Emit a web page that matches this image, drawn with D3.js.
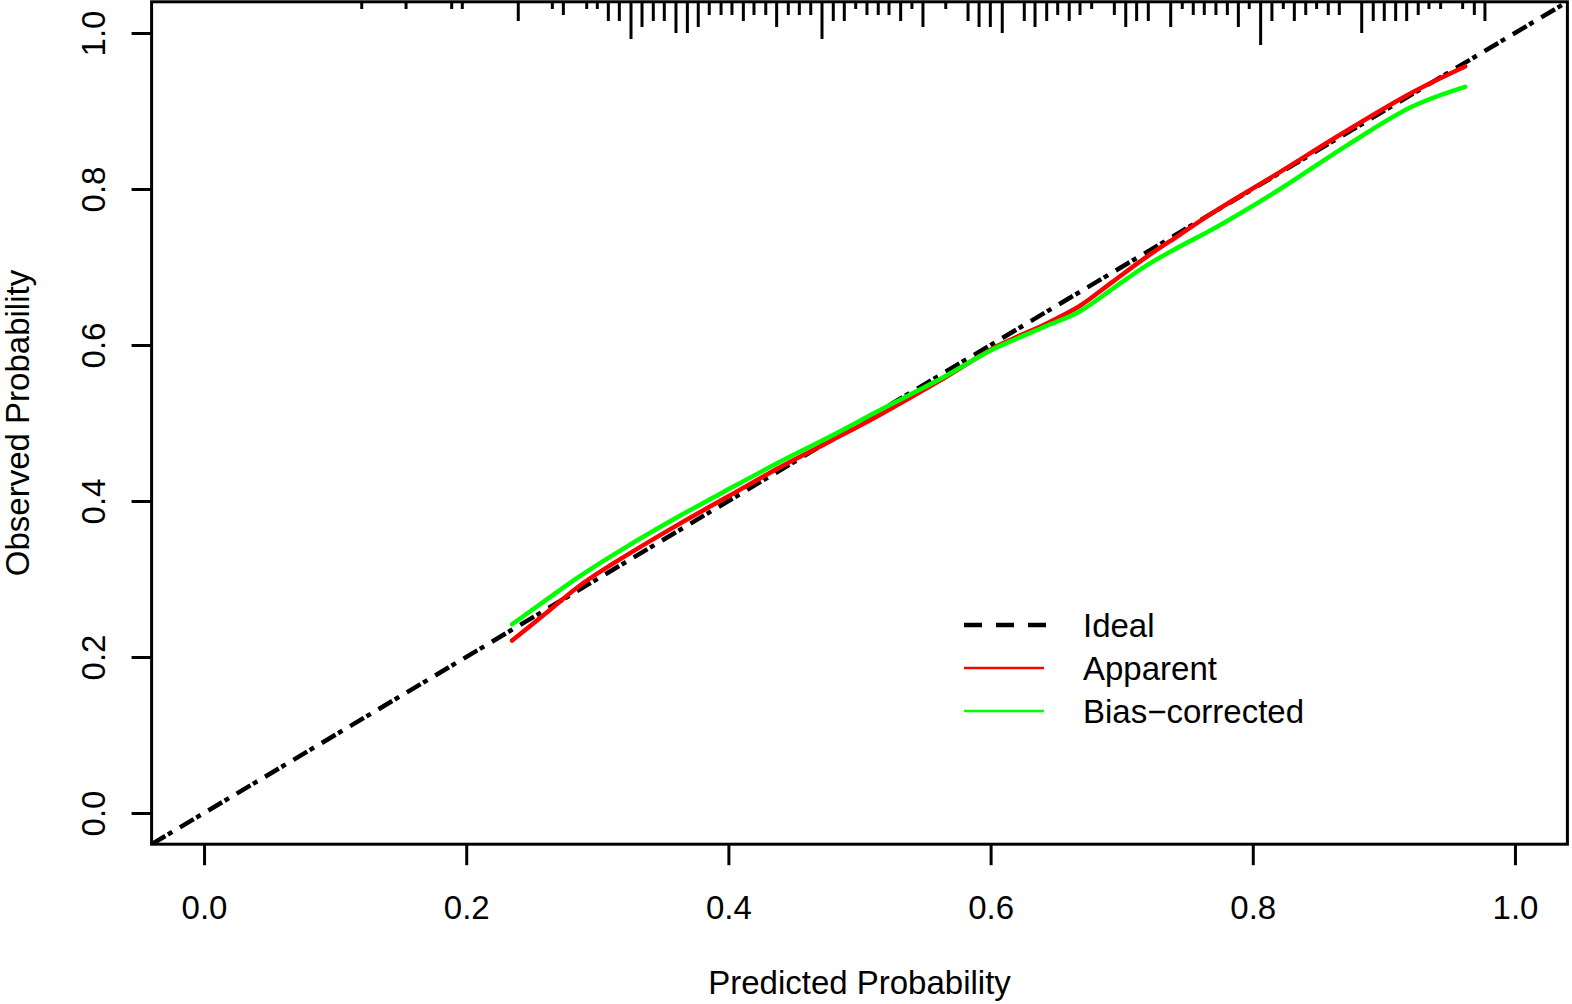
<!DOCTYPE html>
<html>
<head>
<meta charset="utf-8">
<script src="https://cdn.jsdelivr.net/npm/d3@7"></script>
<style>
    body { margin: 0; background: #ffffff; }
    svg { display: block; }
    text { font-family: "Liberation Sans", Arial, sans-serif; fill: #000000; }
</style>
</head>
<body>
<div id="chart"></div>
<script>
// predicted probability (x) and observed probability for each curve
var predicted = [0.235, 0.26, 0.287, 0.32, 0.363, 0.40, 0.439, 0.478, 0.515, 0.56, 0.60, 0.617, 0.642, 0.668, 0.693, 0.719, 0.744, 0.769, 0.82, 0.871, 0.922, 0.962]
var apparent = [0.221, 0.255, 0.292, 0.328, 0.371, 0.406, 0.443, 0.477, 0.510, 0.553, 0.594, 0.608, 0.627, 0.650, 0.681, 0.713, 0.741, 0.769, 0.821, 0.874, 0.924, 0.957]
var biasCorrected = [0.242, 0.272, 0.304, 0.339, 0.381, 0.415, 0.450, 0.483, 0.516, 0.555, 0.593, 0.606, 0.624, 0.643, 0.672, 0.702, 0.726, 0.748, 0.799, 0.855, 0.906, 0.931]

// distribution of predicted risks (rug along the top): position and relative frequency
var rugPos = [0.1203, 0.1541, 0.1889, 0.1970, 0.2397, 0.2657, 0.2741, 0.2919, 0.3000, 0.3084,
    0.3168, 0.3257, 0.3341, 0.3427, 0.3511, 0.3600, 0.3687, 0.3770, 0.3854, 0.3944,
    0.4027, 0.4114, 0.4195, 0.4285, 0.4368, 0.4457, 0.4541, 0.4628, 0.4714, 0.4800,
    0.4884, 0.4971, 0.5057, 0.5143, 0.5225, 0.5314, 0.5400, 0.5484, 0.5658, 0.5828,
    0.5912, 0.5998, 0.6089, 0.6257, 0.6339, 0.6428, 0.6512, 0.6600, 0.6682, 0.6771,
    0.6944, 0.7031, 0.7114, 0.7203, 0.7374, 0.7462, 0.7546, 0.7630, 0.7719, 0.7806,
    0.7890, 0.7973, 0.8060, 0.8146, 0.8233, 0.8317, 0.8404, 0.8487, 0.8576, 0.8660,
    0.8831, 0.8919, 0.9003, 0.9090, 0.9174, 0.9262, 0.9344, 0.9433, 0.9601, 0.9690, 0.9771]
var rugCount = [1, 1, 1, 1, 3, 1, 2, 1, 1, 3,
    3, 6, 4, 3, 3, 5, 5, 4, 2, 2,
    2, 3, 2, 2, 4, 2, 2, 2, 6, 3,
    3, 1, 2, 2, 2, 3, 1, 4, 1, 3,
    4, 4, 5, 3, 4, 3, 2, 3, 2, 1,
    2, 4, 3, 3, 4, 1, 2, 2, 2, 2,
    4, 1, 7, 3, 1, 3, 2, 1, 2, 2,
    5, 3, 3, 3, 3, 2, 1, 1, 1, 2, 3]

var tickValues = [0, 0.2, 0.4, 0.6, 0.8, 1.0]
var legendLabels = ['Ideal', 'Apparent', 'Bias\u2212corrected']
var legendColors = ['#000000', '#ff0000', '#00ff00']

var width = 1572
var height = 1004
var fontSize = '33px'

var x = d3.scaleLinear().domain([-0.04, 1.04]).range([151.6, 1567.4])
var y = d3.scaleLinear().domain([-0.04, 1.04]).range([844.2, 1.8])
var rugLen = d3.scaleLinear().domain([0, 7]).range([3, 45])

var svg = d3.select('#chart').append('svg')
    .attr('width', width)
    .attr('height', height)

svg.append('defs').append('clipPath').attr('id', 'plotClip')
    .append('rect')
    .attr('x', x(-0.04)).attr('y', y(1.04))
    .attr('width', x(1.04) - x(-0.04)).attr('height', y(-0.04) - y(1.04))

var plot = svg.append('g').attr('clip-path', 'url(#plotClip)')

// rug of predicted probabilities hanging from the top edge
plot.selectAll('.rug')
    .data(rugPos)
    .enter().append('line')
    .attr('class', 'rug')
    .attr('x1', function (d) { return x(d) })
    .attr('x2', function (d) { return x(d) })
    .attr('y1', 0)
    .attr('y2', function (d, i) { return rugLen(rugCount[i]) })
    .attr('stroke', '#000000')
    .attr('stroke-width', 3)

// ideal line
plot.append('line')
    .attr('x1', x(-0.04)).attr('y1', y(-0.04))
    .attr('x2', x(1.04)).attr('y2', y(1.04))
    .attr('stroke', '#000000')
    .attr('stroke-width', 4.5)
    .attr('stroke-dasharray', '16,3,5,9')

var line = d3.line()
    .x(function (d) { return x(d[0]) })
    .y(function (d) { return y(d[1]) })
    .curve(d3.curveCatmullRom.alpha(0.5))

plot.append('path')
    .datum(d3.zip(predicted, apparent))
    .attr('d', line)
    .attr('fill', 'none')
    .attr('stroke', legendColors[1])
    .attr('stroke-width', 4.5)
    .attr('stroke-linecap', 'round')

plot.append('path')
    .datum(d3.zip(predicted, biasCorrected))
    .attr('d', line)
    .attr('fill', 'none')
    .attr('stroke', legendColors[2])
    .attr('stroke-width', 4.5)
    .attr('stroke-linecap', 'round')

// box
svg.append('rect')
    .attr('x', x(-0.04)).attr('y', y(1.04))
    .attr('width', x(1.04) - x(-0.04)).attr('height', y(-0.04) - y(1.04))
    .attr('fill', 'none')
    .attr('stroke', '#000000')
    .attr('stroke-width', 3)

// axes
var xAxis = d3.axisBottom(x).tickValues(tickValues).tickFormat(d3.format('.1f')).tickSize(21).tickPadding(30)
var yAxis = d3.axisLeft(y).tickValues(tickValues).tickFormat(d3.format('.1f')).tickSize(20)

var gx = svg.append('g').attr('transform', 'translate(0,' + y(-0.04) + ')').call(xAxis)
var gy = svg.append('g').attr('transform', 'translate(' + x(-0.04) + ',0)').call(yAxis)

gx.select('.domain').remove()
gy.select('.domain').remove()
gx.selectAll('.tick line').attr('stroke-width', 3)
gy.selectAll('.tick line').attr('stroke-width', 3)
gx.selectAll('.tick text').attr('font-size', fontSize).attr('font-family', '"Liberation Sans", Arial, sans-serif')
gy.selectAll('.tick text')
    .attr('font-size', fontSize)
    .attr('font-family', '"Liberation Sans", Arial, sans-serif')
    .attr('text-anchor', 'middle')
    .attr('x', null).attr('dy', null)
    .attr('transform', 'translate(-47,0) rotate(-90)')

svg.append('text')
    .attr('x', x(0.5)).attr('y', 994)
    .attr('text-anchor', 'middle')
    .attr('font-size', fontSize)
    .text('Predicted Probability')

svg.append('text')
    .attr('transform', 'translate(29,' + y(0.5) + ') rotate(-90)')
    .attr('text-anchor', 'middle')
    .attr('font-size', fontSize)
    .text('Observed Probability')

// legend
var legend = svg.append('g').attr('transform', 'translate(964,625)')

legend.selectAll('.leg-line')
    .data(legendLabels)
    .enter().append('line')
    .attr('class', 'leg-line')
    .attr('x1', 0).attr('x2', function (d, i) { return i === 0 ? 83 : 80 })
    .attr('y1', function (d, i) { return i * 43 }).attr('y2', function (d, i) { return i * 43 })
    .attr('stroke', function (d, i) { return legendColors[i] })
    .attr('stroke-width', function (d, i) { return i === 0 ? 4.5 : 2.5 })
    .attr('stroke-dasharray', function (d, i) { return i === 0 ? '18,14' : null })

legend.selectAll('.leg-text')
    .data(legendLabels)
    .enter().append('text')
    .attr('class', 'leg-text')
    .attr('x', 119)
    .attr('y', function (d, i) { return i * 43 + 12 })
    .attr('font-size', fontSize)
    .text(function (d) { return d })
</script>
</body>
</html>
